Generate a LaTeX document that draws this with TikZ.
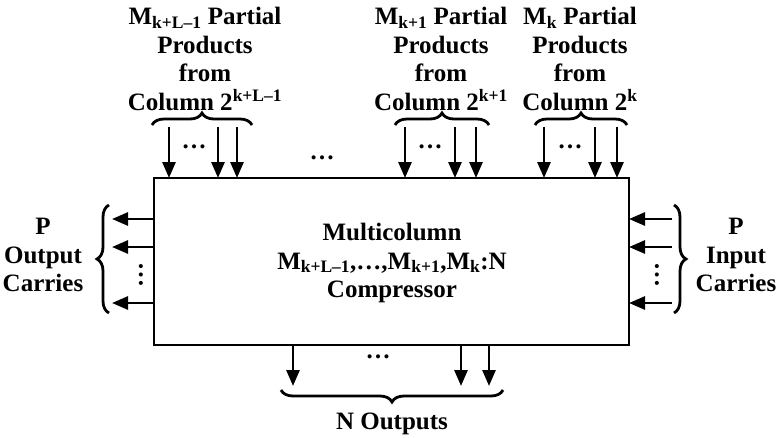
\documentclass[tikz,border=0pt]{standalone}
\usepackage{fontspec}
\setmainfont{Liberation Serif}
\usetikzlibrary{arrows.meta,decorations.pathreplacing}
\begin{document}
\begin{tikzpicture}[x=1pt,y=-1pt,
  txt/.style={font=\fontsize{25}{28.5}\selectfont\bfseries,align=center,inner sep=0pt},
  arr/.style={line width=2.8pt,-{Triangle[length=16pt,width=13pt]}},
  brc/.style={line width=2.8pt,decorate,decoration={brace,amplitude=12pt}},
  dots/.style={font=\fontsize{25}{28}\selectfont\bfseries,inner sep=0pt}]
\useasboundingbox (0,0) rectangle (777,437);
\node[draw,line width=2.8pt,minimum width=475pt,minimum height=167pt,inner sep=0pt,outer sep=0pt,anchor=north west] (box) at (154,178) {};
\node[txt] (main) at (392,263) {Multicolumn\\M\textsubscript{k+L–1},…,M\textsubscript{k+1},M\textsubscript{k}:N\\Compressor};
% top labels
\node[txt] (lab1) at (205,59) {M\textsubscript{k+L–1} Partial\\Products\\from\\Column 2\textsuperscript{k+L–1}};
\node[txt] (lab2) at (441,59) {M\textsubscript{k+1} Partial\\Products\\from\\Column 2\textsuperscript{k+1}};
\node[txt] (lab3) at (580,59) {M\textsubscript{k} Partial\\Products\\from\\Column 2\textsuperscript{k}};
% top braces
\coordinate (b1a) at (152,125); \coordinate (b1b) at (252,125);
\coordinate (b2a) at (395,125); \coordinate (b2b) at (489,125);
\coordinate (b3a) at (535,125); \coordinate (b3b) at (627,125);
\draw[brc] (b1a) -- (b1b);
\draw[brc] (b2a) -- (b2b);
\draw[brc] (b3a) -- (b3b);
% top arrows
\foreach \n/\x in {a/169,b/218,c/237,d/405,e/455,f/476,g/544,h/595,i/617}{
  \coordinate (t\n) at (\x,127);
  \draw[arr] (t\n) -- (t\n |- box.north);
}
\node[dots] (d1) at (194,147) {…};
\node[dots] (d2) at (322,158) {…};
\node[dots] (d3) at (430,147) {…};
\node[dots] (d4) at (570,147) {…};
% left side
\foreach \n/\y in {a/219,b/247,c/303}{
  \coordinate (l\n) at (112,\y);
  \draw[arr] (l\n -| box.west) -- (l\n);
}
\node[dots,rotate=90] (d5) at (141,275) {…};
\draw[brc] (109,313) -- (109,205);
\node[txt] (labl) at (43,255) {P\\Output\\Carries};
% right side
\foreach \n/\y in {a/219,b/247,c/303}{
  \coordinate (r\n) at (672,\y);
  \draw[arr] (r\n) -- (r\n -| box.east);
}
\node[dots,rotate=90] (d6) at (657,275) {…};
\draw[brc] (674,205) -- (674,313);
\node[txt] (labr) at (736,255) {P\\Input\\Carries};
% bottom
\foreach \n/\x in {a/293,b/461,c/489}{
  \coordinate (o\n) at (\x,386);
  \draw[arr] (o\n |- box.south) -- (o\n);
}
\node[dots] (d7) at (378,357) {…};
\draw[brc] (503,390) -- (281,390);
\node[txt] (labb) at (392,424) {N Outputs};
\end{tikzpicture}
\end{document}
